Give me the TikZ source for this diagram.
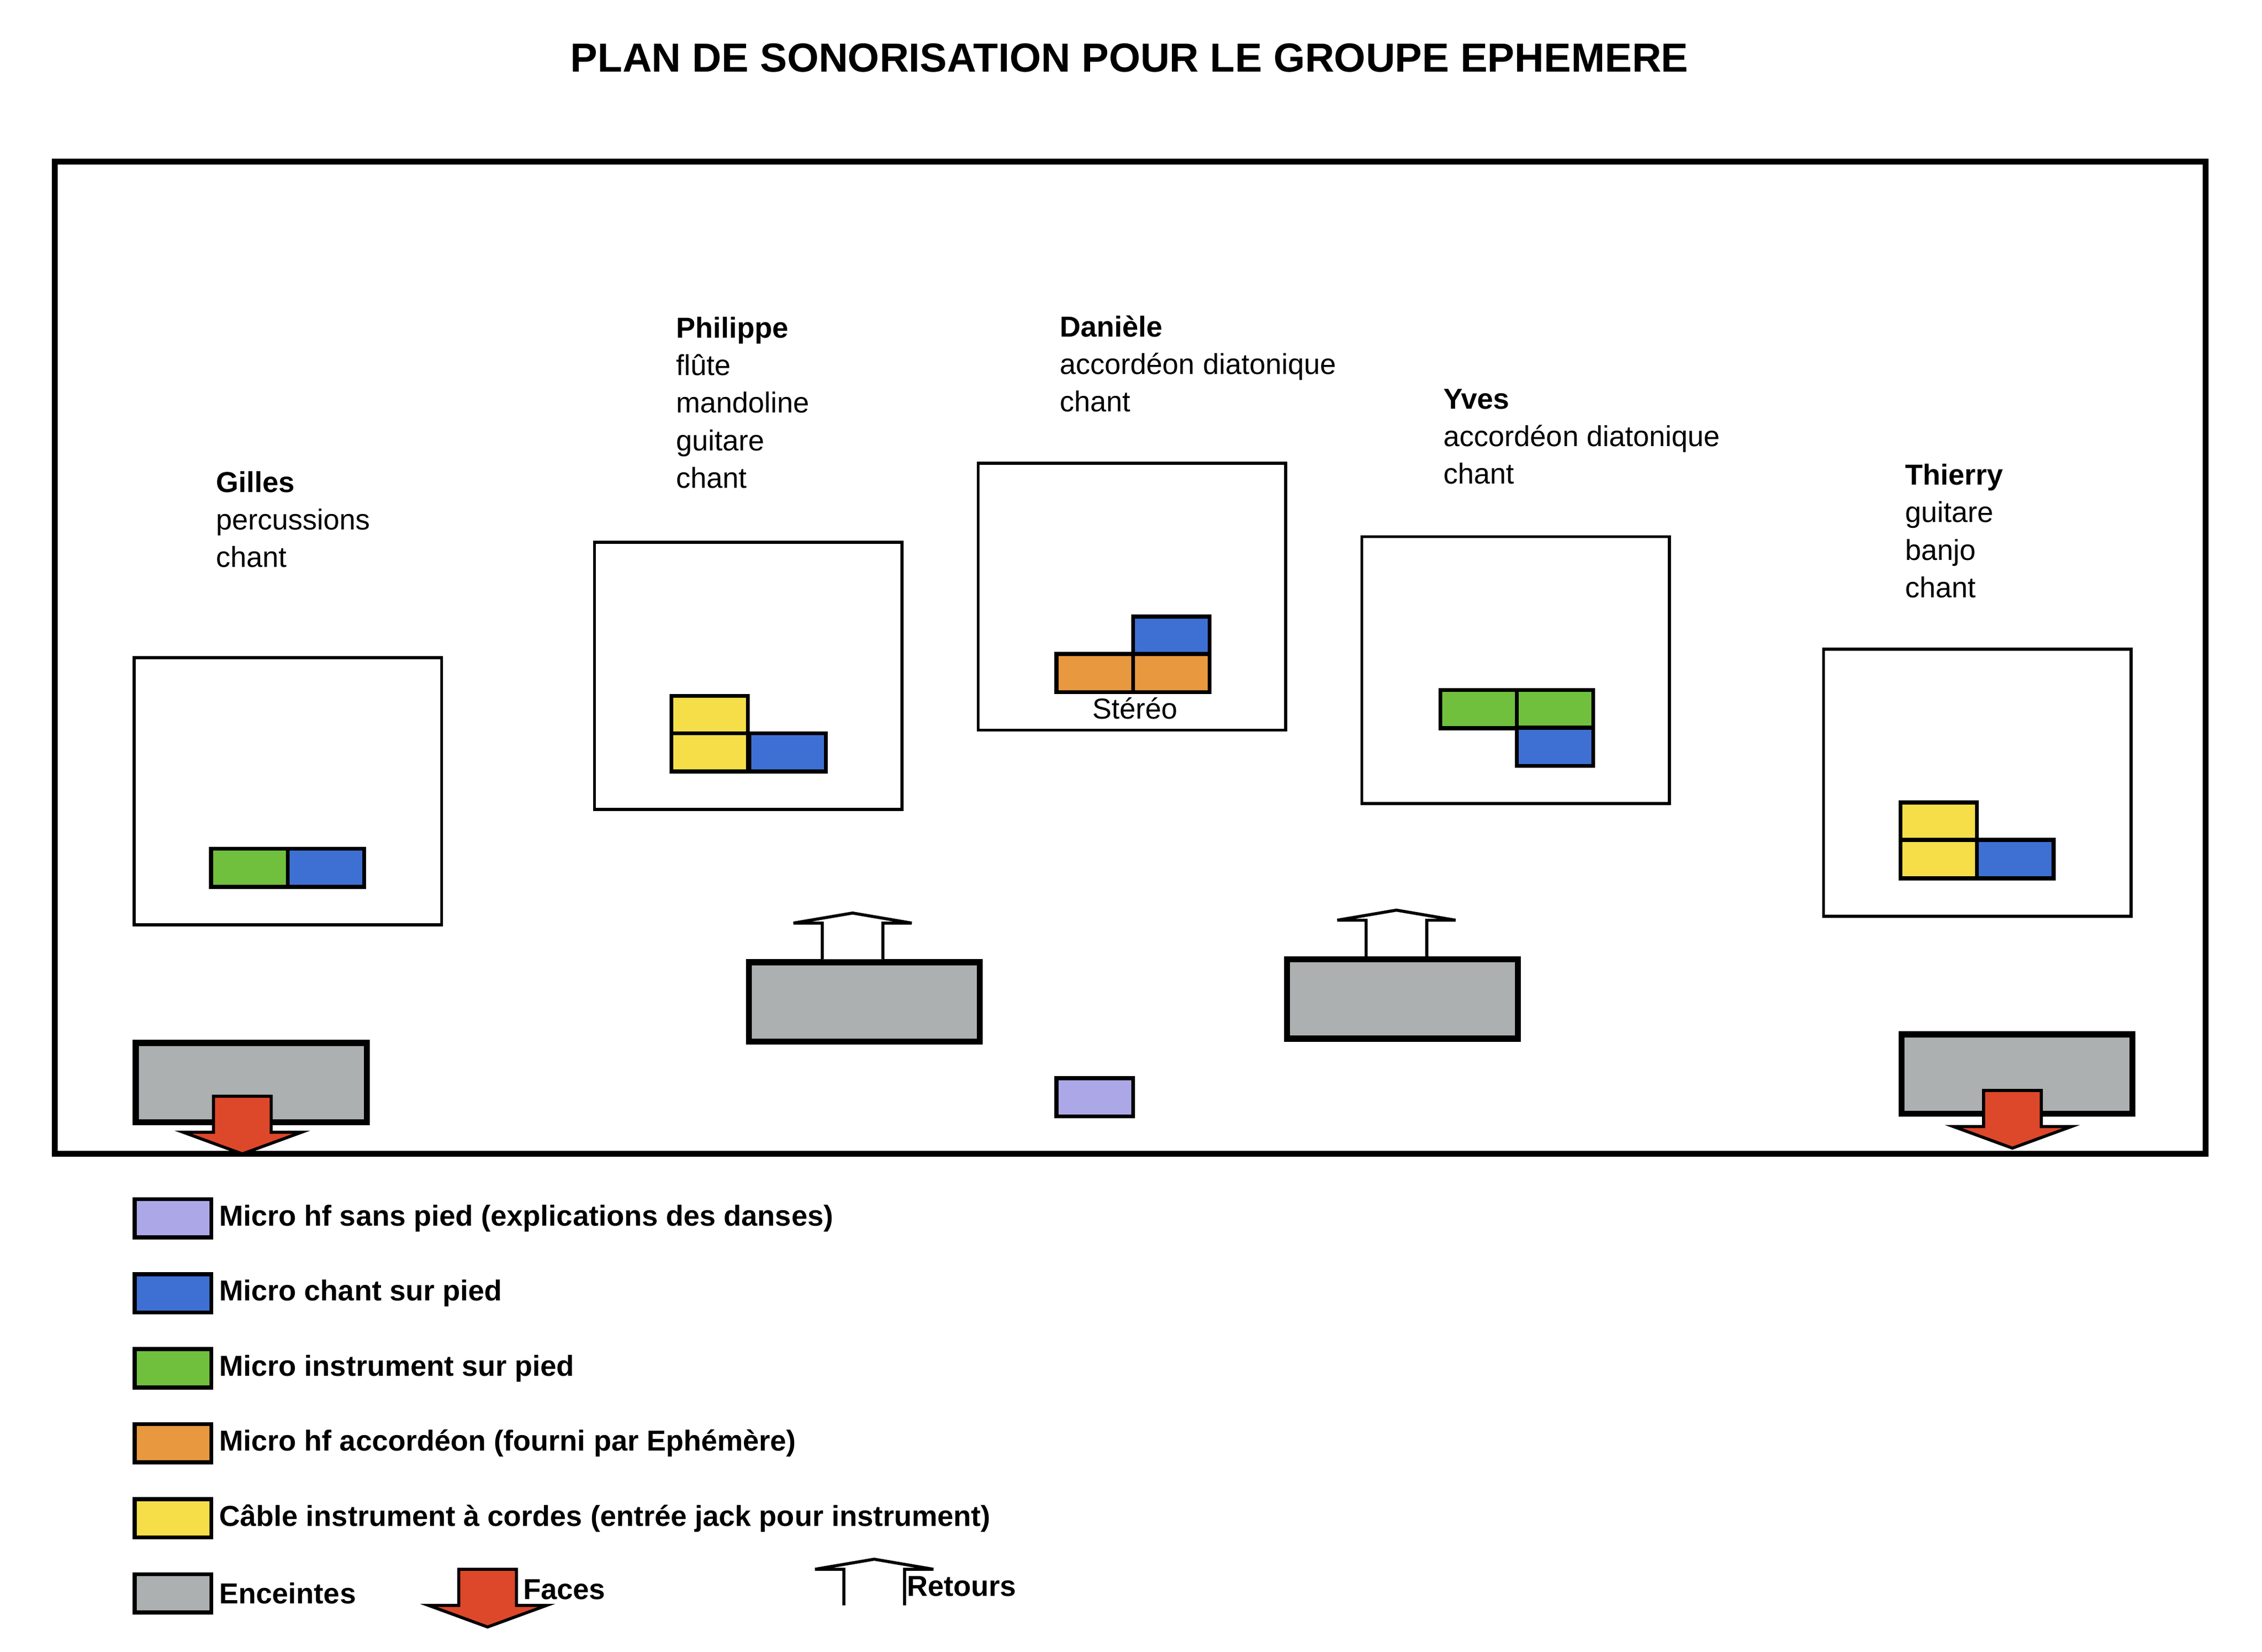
\documentclass[tikz,border=0pt]{standalone}
\usepackage{fontspec}
\setmainfont{Liberation Sans}
\usetikzlibrary{positioning}
\definecolor{hfmic}{RGB}{172,168,232}
\definecolor{chantmic}{RGB}{62,112,212}
\definecolor{instmic}{RGB}{112,192,62}
\definecolor{accmic}{RGB}{232,152,62}
\definecolor{cable}{RGB}{246,222,72}
\definecolor{spk}{RGB}{172,176,176}
\definecolor{face}{RGB}{222,72,42}

\tikzset{
	mic/.style={draw=black,thick,minimum width=0.53cm,minimum height=0.265cm,inner sep=0pt,anchor=north west},
	spkbox/.style={draw=black,line width=1.2pt,fill=spk,minimum width=1.6cm,minimum height=0.55cm,inner sep=0pt,anchor=north west},
	zone/.style={draw=black,semithick,minimum width=2.13cm,minimum height=1.85cm,inner sep=0pt,anchor=north west},
	who/.style={anchor=north west,align=left,inner sep=0pt,font=\fontsize{5.7pt}{7.4pt}\selectfont},
	legtext/.style={anchor=west,inner sep=0pt,font=\bfseries\fontsize{5.7pt}{7pt}\selectfont}
}

% faces (red, down) and retours (white, up)
\newcommand{\facearrow}[2]{%
	\draw[semithick,fill=face] (#1-20,#2) -- (#1+20,#2) -- (#1+20,#2+25) -- (#1+41,#2+25)
	-- (#1,#2+40) -- (#1-41,#2+25) -- (#1-20,#2+25) -- cycle;}
\newcommand{\retourarrow}[2]{%
	\draw[semithick,fill=white] (#1-21,#2) -- (#1-21,#2-25) -- (#1-41,#2-25) -- (#1,#2-32)
	-- (#1+41,#2-25) -- (#1+21,#2-25) -- (#1+21,#2);}

\begin{document}
\begin{tikzpicture}[x=0.01cm,y=-0.01cm]
	\useasboundingbox[fill=white] (0,0) rectangle (1568,1145);
	
	\node (title) at (783,40) {\bfseries\fontsize{8pt}{9pt}\selectfont PLAN DE SONORISATION POUR LE GROUPE EPHEMERE};
	\draw[line width=1.2pt] (38,112) rectangle (1529,800);
	
	% musiciens
	\node[who] (gilles) at (149,326) {\textbf{Gilles}\\percussions\\chant};
	\node[who] (philippe) at (468,219) {\textbf{Philippe}\\flûte\\mandoline\\guitare\\chant};
	\node[who] (daniele) at (734,218) {\textbf{Danièle}\\accordéon diatonique\\chant};
	\node[who] (yves) at (1000,269) {\textbf{Yves}\\accordéon diatonique\\chant};
	\node[who] (thierry) at (1320,321) {\textbf{Thierry}\\guitare\\banjo\\chant};
	
	\node[zone] (zg) at (92,455) {};
	\node[zone] (zp) at (411,375) {};
	\node[zone] (zd) at (677,320) {};
	\node[zone] (zy) at (943,371) {};
	\node[zone] (zt) at (1263,449) {};
	
	% micros
	\node[mic,fill=instmic] (g1) at (145,587) {};
	\node[mic,fill=chantmic] (g2) at (198,587) {};
	\node[mic,fill=cable] (p1) at (464,481) {};
	\node[mic,fill=cable] (p2) at (464,507) {};
	\node[mic,fill=chantmic] (p3) at (518,507) {};
	\node[mic,fill=chantmic] (d1) at (784,426) {};
	\node[mic,fill=accmic] (d2) at (731,452) {};
	\node[mic,fill=accmic] (d3) at (784,452) {};
	\node[below=0.5pt of d2.south east,inner sep=0pt,font=\fontsize{5.7pt}{7pt}\selectfont] (stereo) {Stéréo};
	\node[mic,fill=instmic] (y1) at (997,477) {};
	\node[mic,fill=instmic] (y2) at (1050,477) {};
	\node[mic,fill=chantmic] (y3) at (1050,503) {};
	\node[mic,fill=cable] (t1) at (1316,555) {};
	\node[mic,fill=cable] (t2) at (1316,581) {};
	\node[mic,fill=chantmic] (t3) at (1369,581) {};
	\node[mic,fill=hfmic] (hf) at (731,746) {};
	
	% enceintes
	\node[spkbox] (sg) at (92,721) {};
	\node[spkbox] (sp) at (517,665) {};
	\node[spkbox] (sy) at (890,663) {};
	\node[spkbox] (st) at (1316,715) {};
	\facearrow{168}{760}
	\facearrow{1395}{756}
	\retourarrow{591}{665}
	\retourarrow{968}{663}
	
	% legende
	\node[mic,fill=hfmic] (l1) at (92,830) {};
	\node[mic,fill=chantmic] (l2) at (92,882) {};
	\node[mic,fill=instmic] (l3) at (92,934) {};
	\node[mic,fill=accmic] (l4) at (92,986) {};
	\node[mic,fill=cable] (l5) at (92,1038) {};
	\node[mic,fill=spk] (l6) at (92,1090) {};
	\node[legtext,right=1pt of l1] {Micro hf sans pied (explications des danses)};
	\node[legtext,right=1pt of l2] {Micro chant sur pied};
	\node[legtext,right=1pt of l3] {Micro instrument sur pied};
	\node[legtext,right=1pt of l4] {Micro hf accordéon (fourni par Ephémère)};
	\node[legtext,right=1pt of l5] {Câble instrument à cordes (entrée jack pour instrument)};
	\node[legtext,right=1pt of l6] {Enceintes};
	\facearrow{338}{1088}
	\node[legtext] (lfaces) at (362,1102) {Faces};
	\retourarrow{606}{1113}
	\node[legtext] (lretours) at (628,1100) {Retours};
\end{tikzpicture}
\end{document}
